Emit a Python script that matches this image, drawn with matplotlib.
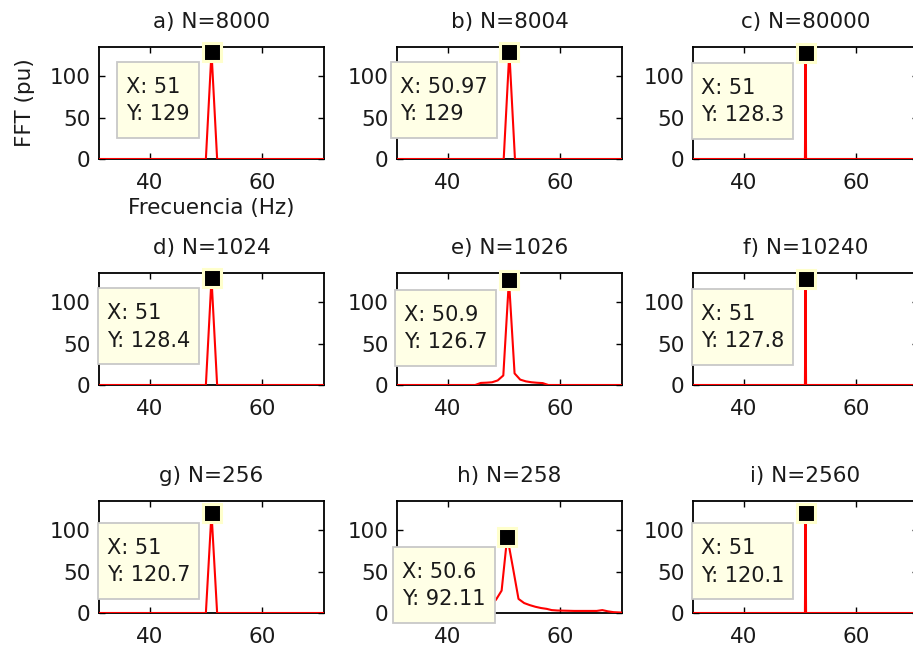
import matplotlib
matplotlib.use("Agg")
import matplotlib.pyplot as plt
from matplotlib.patches import Rectangle
from matplotlib.transforms import IdentityTransform

# titulos de cada subgrafico
titles = ["a) N=8000", "b) N=8004", "c) N=80000",
          "d) N=1024", "e) N=1026", "f) N=10240",
          "g) N=256", "h) N=258", "i) N=2560"]

# espectros (frecuencia en Hz, modulo en pu)
freq_a = [31.0, 50.0, 51.0, 52.0, 71.0]
mag_a = [0, 0, 129.0, 0, 0]
freq_b = [31.0, 49.97, 50.97, 51.97, 71.0]
mag_b = [0, 0, 129.0, 0, 0]
freq_c = [31.0, 50.9, 51.0, 51.1, 71.0]
mag_c = [0, 0, 128.3, 0, 0]
freq_d = [31.0, 50.0, 51.0, 52.0, 71.0]
mag_d = [0, 0, 128.4, 0, 0]
freq_e = [31.0, 44.9, 45.9, 46.9, 47.9, 48.9, 49.9, 50.9, 51.9, 52.9, 53.9, 54.9, 55.9, 56.9, 57.9, 71.0]
mag_e = [0, 0, 2.5, 2.8, 3.3, 5.5, 11.5, 126.7, 14.0, 6.5, 4.4, 3.3, 2.7, 2.3, 0, 0]
freq_f = [31.0, 50.9, 51.0, 51.1, 71.0]
mag_f = [0, 0, 127.8, 0, 0]
freq_g = [31.0, 50.0, 51.0, 52.0, 71.0]
mag_g = [0, 0, 120.7, 0, 0]
freq_h = [31.0, 40.7, 42.7, 44.7, 45.6, 46.6, 47.6, 48.6, 49.6, 50.6, 51.6, 52.6, 53.6,
          54.6, 55.6, 56.6, 57.6, 58.5, 59.5, 62.5, 65.5, 66.5, 67.5, 68.5, 69.5, 71.0]
mag_h = [1, 2, 3, 4, 5, 7, 10, 16, 27, 92.11, 55, 17, 12,
         9.5, 7.5, 6, 5, 3.5, 3, 2.5, 2.5, 2.5, 3.5, 2, 1, 0.5]
freq_i = [31.0, 50.9, 51.0, 51.1, 71.0]
mag_i = [0, 0, 120.1, 0, 0]

# datatips
tip_x = [51, 50.97, 51, 51, 50.9, 51, 51, 50.6, 51]
tip_y = [129, 129, 128.3, 128.4, 126.7, 127.8, 120.7, 92.11, 120.1]

freqs = [freq_a, freq_b, freq_c, freq_d, freq_e, freq_f, freq_g, freq_h, freq_i]
mags = [mag_a, mag_b, mag_c, mag_d, mag_e, mag_f, mag_g, mag_h, mag_i]

W, H = 913, 646
fig = plt.figure(figsize=(W / 100, H / 100), dpi=100)
col_left = [99, 397, 693]
row_top = [47, 273, 501]
aw, ah = 225, 112
txt_col = "#1a1a1a"

axes = []
tips = []
for k in range(9):
    r, c = divmod(k, 3)
    ax = fig.add_axes([col_left[c] / W, 1 - (row_top[r] + ah) / H, aw / W, ah / H])
    ax.plot(freqs[k], mags[k], color="red", lw=1.5, zorder=3)
    ax.set_xlim(31, 71)
    ax.set_ylim(0, 135)
    ax.set_xticks([40, 60])
    ax.set_yticks([0, 50, 100])
    ax.tick_params(direction="in", length=4, width=1, top=True, right=True,
                   labelsize=15.5, labelcolor=txt_col)
    ax.tick_params(axis="x", pad=10)
    ax.tick_params(axis="y", pad=6)
    for s in ax.spines.values():
        s.set_linewidth(1.3)
    ax.set_title(titles[k], fontsize=15.5, pad=14, color=txt_col)
    ax.plot(tip_x[k], tip_y[k], "s", ms=13.5, mfc="black", mec="#ffffcc",
            mew=2.2, clip_on=False, zorder=6)
    t = ax.annotate("X: %g\nY: %g" % (tip_x[k], tip_y[k]), xy=(tip_x[k], tip_y[k]),
                    xytext=(-21.5, -25), textcoords="offset pixels",
                    ha="right", va="top", multialignment="left", color=txt_col,
                    fontsize=15, linespacing=1.45, zorder=7, annotation_clip=False)
    axes.append(ax)
    tips.append(t)

axes[0].set_xlabel("Frecuencia (Hz)", fontsize=15.5, labelpad=4, color=txt_col)
axes[0].set_ylabel("FFT (pu)", fontsize=15.5, labelpad=11, color=txt_col)

# cajas de los datatips, ajustadas al texto
fig.canvas.draw()
for k in range(9):
    ax = axes[k]
    mx, my = ax.transData.transform((tip_x[k], tip_y[k]))
    bb = tips[k].get_window_extent()
    right = mx - 12.5
    top = my - 10
    left = bb.x0 - 9
    ax.add_patch(Rectangle((left, top - 76), right - left, 76, transform=IdentityTransform(),
                           facecolor="#ffffe6", edgecolor="#c8c8c8", lw=1.3,
                           clip_on=False, zorder=5))

fig.savefig("out.png", dpi=100)
